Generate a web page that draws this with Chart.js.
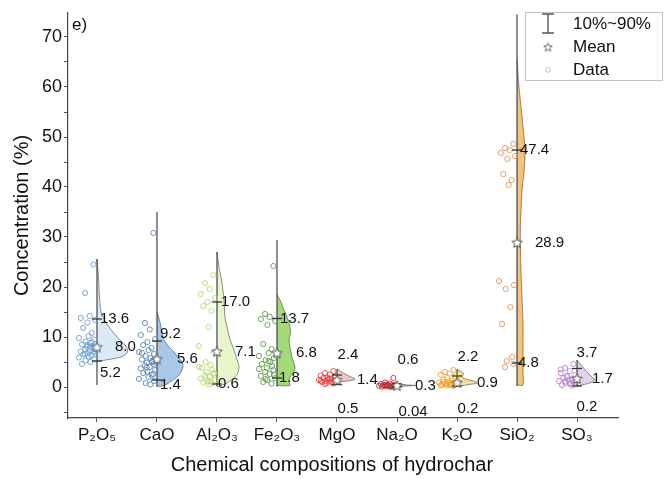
<!DOCTYPE html>
<html>
<head>
<meta charset="utf-8">
<script src="https://cdn.jsdelivr.net/npm/chart.js@4.4.1/dist/chart.umd.min.js"></script>
<style>
  html, body { margin: 0; padding: 0; background: #fff; }
  #wrap { width: 667px; height: 479px; }
</style>
</head>
<body>
<div id="wrap"><canvas id="chart" width="667" height="479"></canvas></div>
<script>
// categories and summary values
const categories = ['P₂O₅', 'CaO', 'Al₂O₃', 'Fe₂O₃', 'MgO', 'Na₂O', 'K₂O', 'SiO₂', 'SO₃'];
const p10 = [5.2, 1.4, 0.6, 1.8, 0.5, 0.04, 0.2, 4.8, 0.2];
const p90 = [13.6, 9.2, 17.0, 13.7, 2.4, 0.6, 2.2, 47.4, 3.7];
const means = [8.0, 5.6, 7.1, 6.8, 1.4, 0.3, 0.9, 28.9, 1.7];
const mins = [0.4, 0.1, 0.1, 0.1, 0.6, 0.02, 0.1, 0.2, 0.1];
const maxs = [25.6, 35.0, 27.0, 29.4, 3.6, 1.0, 3.6, 74.5, 5.4];
const yTicks = [-5, 0, 5, 10, 15, 20, 25, 30, 35, 40, 45, 50, 55, 60, 65, 70];

// individual samples (concentration, %)
const p2o5Data = [24.5, 18.8, 14.2, 13.8, 13.4, 12.9, 11.8, 10.8, 10.2, 9.8, 9.5, 9.1, 8.8, 8.5, 8.2, 8.0, 7.8, 7.6, 7.3, 7.1, 6.9, 6.7, 6.5, 6.3, 6.1, 5.9, 5.6, 5.3, 5.0, 4.6, 9.0, 8.4, 7.0, 6.6, 7.9];
const caoData = [30.8, 12.8, 11.5, 10.4, 9.6, 9.0, 8.4, 7.8, 7.4, 7.0, 6.6, 6.2, 5.8, 5.5, 5.2, 4.9, 4.6, 4.3, 4.0, 3.7, 3.4, 3.1, 2.8, 2.4, 2.0, 1.6, 1.2, 0.8, 0.5, 6.8, 5.0, 3.9, 2.6];
const al2o3Data = [22.4, 20.8, 19.6, 18.6, 17.8, 17.0, 16.2, 15.2, 12.0, 8.2, 7.0, 5.0, 4.4, 3.8, 3.4, 3.0, 2.6, 2.3, 2.0, 1.7, 1.4, 1.1, 0.9, 0.7, 0.5, 4.0, 2.8, 1.8, 1.2];
const fe2o3Data = [24.2, 14.6, 14.0, 13.6, 13.2, 12.4, 8.6, 7.6, 6.8, 6.2, 5.8, 5.4, 5.0, 4.6, 4.2, 3.8, 3.4, 3.0, 2.6, 2.2, 1.8, 1.4, 1.0, 0.7, 5.2, 3.6, 2.4, 1.6];
const mgoData = [3.2, 2.8, 2.5, 2.3, 2.1, 1.9, 1.8, 1.6, 1.5, 1.4, 1.3, 1.2, 1.1, 1.0, 0.9, 0.8, 0.7, 0.6, 1.7, 1.2, 2.0, 1.5];
const na2oData = [1.8, 0.9, 0.7, 0.6, 0.5, 0.45, 0.4, 0.35, 0.3, 0.25, 0.2, 0.15, 0.1, 0.08, 0.05, 0.3, 0.2, 0.4, 0.1];
const k2oData = [3.4, 3.0, 2.7, 2.4, 2.1, 1.8, 1.5, 1.3, 1.1, 0.9, 0.8, 0.7, 0.6, 0.5, 0.4, 0.3, 0.2, 0.6, 0.4, 0.3, 0.5, 0.8, 1.0];
const sio2Data = [48.6, 47.8, 47.4, 46.8, 46.2, 45.6, 42.6, 41.4, 40.4, 21.2, 20.4, 19.6, 16.0, 12.6, 6.0, 5.2, 4.6, 4.0];
const so3Data = [4.6, 3.8, 3.2, 2.8, 2.4, 2.0, 1.8, 1.6, 1.4, 1.2, 1.0, 0.8, 0.6, 0.4, 0.3, 2.2, 1.5, 1.1, 0.7, 3.5];

// half-violin outlines: [concentration, density width]
const p2o5Violin = [[25.6, 0], [22, 1.5], [18, 2.5], [15, 4], [13.6, 7], [12, 12], [10.5, 18], [9, 25], [7.8, 30], [6.8, 30], [6, 24], [5.5, 12], [5.2, 3], [5.0, 0]];
const caoViolin = [[15, 0], [13, 3], [11, 5], [9.4, 7], [8, 12], [7, 17], [6, 21], [5, 25], [4, 26], [3, 24], [2, 20], [1, 13], [0.3, 7], [0.1, 0]];
const al2o3Violin = [[27, 0], [24, 2], [20.8, 5], [17.4, 7], [14, 8], [12, 10], [9.5, 13], [7.4, 17], [5.5, 20], [4, 22], [2.5, 20], [1.5, 15], [0.8, 10], [0.3, 4], [0.1, 0]];
const fe2o3Violin = [[18.5, 0], [17.4, 3], [15.4, 7], [13.5, 11], [12, 13], [10.8, 13.5], [9.4, 12], [8, 13], [6, 15], [4, 18], [3, 17], [2, 13], [1, 12], [0.3, 13], [0.3, 0]];
const mgoViolin = [[3.6, 0], [3.2, 3], [2.6, 8], [2.0, 14], [1.6, 18], [1.3, 14], [1.1, 6], [0.9, 0]];
const na2oViolin = [[0.9, 0], [0.6, 3], [0.45, 8], [0.35, 15], [0.3, 18], [0.2, 10], [0.1, 3], [0.02, 0]];
const k2oViolin = [[3.4, 0], [3.1, 4], [2.6, 7], [2.2, 5], [1.8, 6], [1.4, 12], [1.1, 18], [0.8, 20], [0.5, 12], [0.2, 3], [0.1, 0]];
const sio2Violin = [[65.4, 0], [60, 2], [56, 4], [50, 7], [46.8, 8], [43, 7], [39.4, 5], [35, 4], [32, 3.3], [27, 3.5], [22.8, 4], [18, 5], [12.8, 6], [8, 6], [2.8, 6], [0.4, 6], [0.4, 0]];
const so3Violin = [[5.4, 0], [4.6, 3], [3.7, 7], [2.8, 11], [2.0, 15], [1.4, 18], [0.9, 14], [0.5, 7], [0.2, 0]];

const samples = [p2o5Data, caoData, al2o3Data, fe2o3Data, mgoData, na2oData, k2oData, sio2Data, so3Data];
const violins = [p2o5Violin, caoViolin, al2o3Violin, fe2o3Violin, mgoViolin, na2oViolin, k2oViolin, sio2Violin, so3Violin];

// styles
const fillColors = ['#dce9f6', '#a8c8e8', '#e9f5cd', '#a4d97a', '#f5c4c4', '#e6abab', '#f7dea0', '#f6c27a', '#e5d0ec'];
const pointColors = ['#6b9fd2', '#5588c0', '#b7da72', '#5c9f45', '#e84848', '#b83232', '#f2a326', '#e5905a', '#bb86d6'];
const VIOLIN_SCALE = 1 / 60;
const JITTER = [-0.06, -0.2, -0.12, -0.27, -0.03, -0.16, -0.23, -0.09, -0.14, -0.3, -0.05, -0.19, -0.11, -0.25, -0.08, -0.17];
// label placement: [dx px, dy px, align]
const p90Pos = [[3, 0, 'left'], [3, -7, 'left'], [4, 0, 'left'], [3, 0, 'left'], [11, -20, 'center'], [11, -24, 'center'], [11, -19, 'center'], [3, 0, 'left'], [10, -16, 'center']];
const p10Pos = [[3, 12, 'left'], [3, 5, 'left'], [1, 0, 'left'], [2, 0, 'left'], [11, 24, 'center'], [16, 25, 'center'], [11, 23, 'center'], [1, 0, 'left'], [10, 21, 'center']];
const meanDx = [18, 20, 18, 19, 20, 18, 20, 18, 15];

const FONT = "'Liberation Sans', Arial, sans-serif";
const fmt = v => (v < 0.1 ? v.toFixed(2) : v.toFixed(1));

function makeStar(r, lw) {
  const c = document.createElement('canvas');
  const s = Math.ceil(r * 2 + lw * 2 + 2);
  c.width = c.height = s;
  const g = c.getContext('2d');
  g.translate(s / 2, s / 2 + 0.5);
  g.beginPath();
  for (let k = 0; k < 10; k++) {
    const rad = k % 2 === 0 ? r : r * 0.45;
    const a = -Math.PI / 2 + k * Math.PI / 5;
    g.lineTo(rad * Math.cos(a), rad * Math.sin(a));
  }
  g.closePath();
  g.fillStyle = '#fff';
  g.fill();
  g.strokeStyle = '#555';
  g.lineWidth = lw;
  g.stroke();
  return c;
}
const bigStar = makeStar(5.5, 1);
const smallStar = makeStar(4.5, 0.9);

const datasets = [];

violins.forEach((v, i) => {
  datasets.push({
    data: v.map(([y, w]) => ({ x: i + 1 + w * VIOLIN_SCALE, y })),
    showLine: true,
    fill: 'shape',
    backgroundColor: fillColors[i],
    borderColor: 'rgba(70,70,70,0.75)',
    borderWidth: 0.8,
    pointRadius: 0,
    tension: 0.3,
    order: 5
  });
});

categories.forEach((c, i) => {
  datasets.push({
    data: [{ x: i + 1, y: mins[i] }, { x: i + 1, y: maxs[i] }],
    showLine: true,
    borderColor: '#333',
    borderWidth: 1.1,
    pointRadius: 0,
    order: 4
  });
});

samples.forEach((arr, i) => {
  datasets.push({
    data: arr.map((y, k) => ({ x: i + 1 + JITTER[k % JITTER.length], y })),
    pointRadius: 2.6,
    pointBorderWidth: 0.9,
    pointBackgroundColor: 'rgba(255,255,255,0)',
    pointBorderColor: pointColors[i],
    order: 3
  });
});

datasets.push({
  data: categories.flatMap((c, i) => [{ x: i + 1, y: p10[i] }, { x: i + 1, y: p90[i] }]),
  pointStyle: 'line',
  pointRadius: 5,
  pointBorderWidth: 1.3,
  pointBorderColor: '#333',
  order: 2
});

datasets.push({
  data: means.map((m, i) => ({ x: i + 1, y: m })),
  pointStyle: bigStar,
  pointRadius: 6,
  order: 1
});

const labelPlugin = {
  id: 'labels',
  afterDatasetsDraw(chart) {
    const { ctx, scales: { x, y } } = chart;
    ctx.save();
    ctx.fillStyle = '#111';
    ctx.font = '15px ' + FONT;
    ctx.textBaseline = 'middle';
    categories.forEach((c, i) => {
      const cx = x.getPixelForValue(i + 1);
      const put = (val, pos) => {
        ctx.textAlign = pos[2];
        ctx.fillText(fmt(val), cx + pos[0], y.getPixelForValue(val) + pos[1]);
      };
      put(p90[i], p90Pos[i]);
      put(p10[i], p10Pos[i]);
      ctx.textAlign = 'left';
      ctx.fillText(fmt(means[i]), cx + meanDx[i], y.getPixelForValue(means[i]));
    });

    // panel letter
    ctx.font = '17px ' + FONT;
    ctx.textAlign = 'left';
    ctx.fillText('e)', 72, 25);

    // legend
    const lx = 525, ly = 12;
    ctx.fillStyle = '#fff';
    ctx.fillRect(lx, ly, 137, 68);
    ctx.strokeStyle = '#c4c4c4';
    ctx.lineWidth = 1;
    ctx.strokeRect(lx + 0.5, ly + 0.5, 137, 68);
    ctx.strokeStyle = '#555';
    ctx.lineWidth = 1.4;
    ctx.beginPath();
    ctx.moveTo(548, 14); ctx.lineTo(548, 33);
    ctx.moveTo(542, 14); ctx.lineTo(554, 14);
    ctx.moveTo(542, 33); ctx.lineTo(554, 33);
    ctx.stroke();
    ctx.drawImage(smallStar, 548 - smallStar.width / 2, 47 - smallStar.height / 2);
    ctx.strokeStyle = '#9dbde2';
    ctx.lineWidth = 0.9;
    ctx.beginPath();
    ctx.arc(548, 70, 2.3, 0, Math.PI * 2);
    ctx.stroke();
    ctx.fillStyle = '#111';
    ctx.font = '17px ' + FONT;
    ctx.fillText('10%~90%', 573, 24);
    ctx.fillText('Mean', 573, 47);
    ctx.fillText('Data', 573, 70);
    ctx.restore();
  }
};

new Chart(document.getElementById('chart'), {
  type: 'scatter',
  data: { datasets },
  options: {
    responsive: false,
    animation: false,
    layout: { padding: { top: 13, right: 49, left: 0, bottom: 0 } },
    plugins: { legend: { display: false }, tooltip: { enabled: false } },
    scales: {
      x: {
        type: 'linear',
        min: 0.517,
        max: 9.683,
        afterBuildTicks: s => { s.ticks = categories.map((c, i) => ({ value: i + 1 })); },
        afterFit: s => { s.height = 61; },
        border: { color: '#444', width: 1.2 },
        grid: { drawOnChartArea: false, tickLength: 4, color: '#555' },
        ticks: {
          autoSkip: false,
          maxRotation: 0,
          padding: 3,
          color: '#111',
          font: { family: FONT, size: 17 },
          callback: v => categories[Math.round(v) - 1]
        },
        title: {
          display: true,
          text: 'Chemical compositions of hydrochar' + '\u00a0'.repeat(4),
          color: '#111',
          font: { family: FONT, size: 20 },
          padding: { top: 0, bottom: 2 }
        }
      },
      y: {
        type: 'linear',
        min: -6.2,
        max: 74.8,
        afterBuildTicks: s => { s.ticks = yTicks.map(v => ({ value: v })); },
        afterFit: s => { s.width = 68; },
        border: { color: '#444', width: 1.2 },
        grid: { drawOnChartArea: false, tickLength: 4, color: '#555' },
        ticks: {
          padding: 2,
          color: '#111',
          font: { family: FONT, size: 18 },
          callback: v => (v % 10 === 0 ? String(v) : '')
        },
        title: {
          display: true,
          text: 'Concentration (%)',
          color: '#111',
          font: { family: FONT, size: 20 },
          padding: { top: 10, bottom: 0 }
        }
      }
    }
  },
  plugins: [labelPlugin]
});
</script>
</body>
</html>
